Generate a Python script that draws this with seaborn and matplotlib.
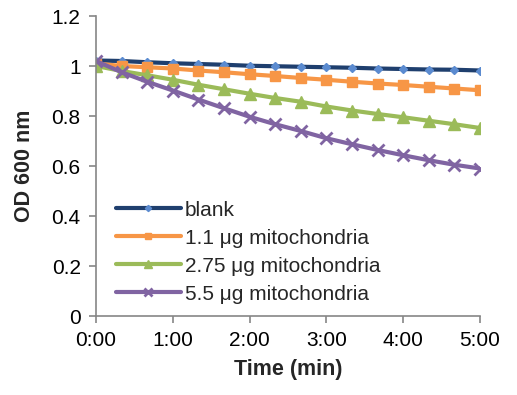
import matplotlib
matplotlib.use("Agg")
import matplotlib.pyplot as plt
import seaborn as sns
import pandas as pd

# time points in seconds (every 20 s)
time_s = [0, 20, 40, 60, 80, 100, 120, 140, 160, 180, 200, 220, 240, 260, 280, 300]

blank = [1.022, 1.02, 1.015, 1.011, 1.008, 1.005, 1.001, 0.999, 0.997, 0.995,
         0.993, 0.99, 0.988, 0.986, 0.985, 0.982]
mito_11 = [1.01, 1.0, 0.995, 0.99, 0.982, 0.975, 0.967, 0.96, 0.952, 0.945,
           0.937, 0.93, 0.924, 0.917, 0.91, 0.903]
mito_275 = [1.0, 0.98, 0.963, 0.945, 0.925, 0.907, 0.889, 0.872, 0.857, 0.838,
            0.822, 0.808, 0.795, 0.781, 0.767, 0.752]
mito_55 = [1.02, 0.975, 0.937, 0.902, 0.866, 0.831, 0.797, 0.767, 0.74, 0.711,
           0.687, 0.664, 0.643, 0.623, 0.605, 0.59]

series_names = ["blank", "1.1 μg mitochondria", "2.75 μg mitochondria", "5.5 μg mitochondria"]
x_ticks = [0, 60, 120, 180, 240, 300]
x_labels = ["0:00", "1:00", "2:00", "3:00", "4:00", "5:00"]
y_ticks = [0, 0.2, 0.4, 0.6, 0.8, 1.0, 1.2]
y_labels = ["0", "0.2", "0.4", "0.6", "0.8", "1", "1.2"]

df = pd.DataFrame({
    "time": time_s * 4,
    "od": blank + mito_11 + mito_275 + mito_55,
    "sample": sum([[n] * len(time_s) for n in series_names], []),
})

sns.set_style("white")
plt.rcParams["font.family"] = ["Liberation Sans", "DejaVu Sans"]

line_colors = ["#1F3F6E", "#F79646", "#9BBB59", "#8064A2"]
markers = ["D", "s", "^", "x"]
marker_sizes = [4.5, 6.5, 8, 8]
marker_face = ["#5B8BD0", "#F79646", "#9BBB59", "#8064A2"]

fig = plt.figure(figsize=(5.17, 3.95), dpi=100)
ax = fig.add_axes([96 / 517, 79 / 395, 384 / 517, 300 / 395])

for name, c, m, ms, mf in zip(series_names, line_colors, markers, marker_sizes, marker_face):
    sns.lineplot(
        data=df[df["sample"] == name], x="time", y="od", ax=ax,
        color=c, linewidth=3, marker=m, markersize=ms,
        markerfacecolor=mf, markeredgecolor=mf,
        markeredgewidth=1 if m != "x" else 2, label=name,
    )

ax.set_xlim(0, 300)
ax.set_ylim(0, 1.2)
ax.set_xticks(x_ticks)
ax.set_xticklabels(x_labels)
ax.set_yticks(y_ticks)
ax.set_yticklabels(y_labels)
ax.tick_params(axis="both", labelsize=15, colors="#868686", length=5, width=1.2,
               direction="out", labelcolor="black", pad=6)
ax.tick_params(axis="both", bottom=True, left=True)
for side in ["top", "right"]:
    ax.spines[side].set_visible(False)
for side in ["left", "bottom"]:
    ax.spines[side].set_color("#868686")
    ax.spines[side].set_linewidth(1.2)

ax.set_xlabel("Time (min)", fontsize=15.5, fontweight="bold", labelpad=6)
ax.set_ylabel("OD 600 nm", fontsize=15.5, fontweight="bold", labelpad=12)

ax.legend(loc="lower left", bbox_to_anchor=(0.02, 0.0), frameon=False,
          fontsize=15, handlelength=3.1, handletextpad=0.2, labelspacing=0.43,
          borderaxespad=0.2, numpoints=1, markerscale=0.7)

fig.savefig("out.png", dpi=100)
